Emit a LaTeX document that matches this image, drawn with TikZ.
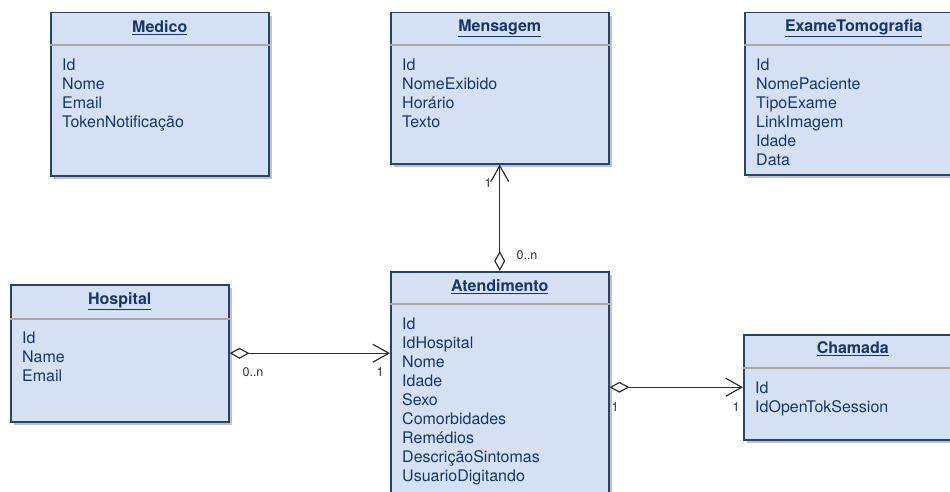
\documentclass[tikz,border=0pt]{standalone}
\usepackage{fontspec}
\setmainfont{TeX Gyre Heros}
\usetikzlibrary{arrows.meta,shadows}

\definecolor{umlfill}{HTML}{D4E1F5}
\definecolor{umlline}{HTML}{25446E}
\definecolor{umltext}{HTML}{173663}
\definecolor{umlsep}{HTML}{A8A8A8}
\definecolor{umlwire}{HTML}{2E2E2E}

\tikzset{
  classbox/.style={draw=umlline, line width=1.5pt, fill=umlfill, anchor=north west,
    minimum width=218pt, inner sep=0pt,
    drop shadow={shadow xshift=3pt, shadow yshift=-3pt, fill=black!30, opacity=0.8}},
  classtitle/.style={text=umltext, font=\fontsize{16}{19}\selectfont\bfseries, inner sep=0pt},
  attrs/.style={text=umltext, font=\fontsize{16}{19}\selectfont, align=left,
    anchor=north west, inner sep=0pt},
  sepline/.style={draw=umlsep, line width=1.5pt},
  mult/.style={text=umlwire, font=\fontsize{12.5}{14}\selectfont, inner sep=0pt},
  assoc/.style={draw=umlwire, line width=1.2pt,
    {Diamond[open,length=20pt,width=11pt]}-{Straight Barb[length=16pt,width=18pt]}}
}

\begin{document}
\begin{tikzpicture}[x=1pt,y=-1pt]
    \useasboundingbox (0,0) rectangle (950,492);
    \clip (0,0) rectangle (950,492);

    % class boxes
    \node[classbox, minimum height=163pt] (medico)   at (50,12)  {};
    \node[classbox, minimum height=151pt] (mensagem) at (390,12) {};
    \node[classbox, minimum height=162pt] (exame)    at (744,12) {};
    \node[classbox, minimum height=137pt] (hospital) at (10,284) {};
    \node[classbox, minimum height=240pt] (atend)    at (390,271) {};
    \node[classbox, minimum height=105pt] (chamada)  at (743,334) {};

    % header separators
    \draw[sepline] ([yshift=-33pt]medico.north west)   -- ([yshift=-33pt]medico.north east);
    \draw[sepline] ([yshift=-33pt]mensagem.north west) -- ([yshift=-33pt]mensagem.north east);
    \draw[sepline] ([yshift=-33pt]exame.north west)    -- ([yshift=-33pt]exame.north east);
    \draw[sepline] ([yshift=-35pt]hospital.north west) -- ([yshift=-35pt]hospital.north east);
    \draw[sepline] ([yshift=-33pt]atend.north west)    -- ([yshift=-33pt]atend.north east);
    \draw[sepline] ([yshift=-34pt]chamada.north west)  -- ([yshift=-34pt]chamada.north east);

    % titles
    \node[classtitle] (medicotitle)   at ([yshift=-16pt]medico.north)   {\underline{Medico}};
    \node[classtitle] (mensagemtitle) at ([yshift=-16pt]mensagem.north) {\underline{Mensagem}};
    \node[classtitle] (exametitle)    at ([yshift=-16pt]exame.north)    {\underline{ExameTomografia}};
    \node[classtitle] (hospitaltitle) at ([yshift=-17pt]hospital.north) {\underline{Hospital}};
    \node[classtitle] (atendtitle)    at ([yshift=-16pt]atend.north)    {\underline{Atendimento}};
    \node[classtitle] (chamadatitle)  at ([yshift=-15pt]chamada.north)  {\underline{Chamada}};

    % attributes
    \node[attrs] (medicoattrs) at ([xshift=12pt,yshift=-47pt]medico.north west)
        {Id\\Nome\\Email\\TokenNotificação};
    \node[attrs] (mensagemattrs) at ([xshift=12pt,yshift=-47pt]mensagem.north west)
        {Id\\NomeExibido\\Horário\\Texto};
    \node[attrs] (exameattrs) at ([xshift=12pt,yshift=-47pt]exame.north west)
        {Id\\NomePaciente\\TipoExame\\LinkImagem\\Idade\\Data};
    \node[attrs] (hospitalattrs) at ([xshift=12pt,yshift=-48pt]hospital.north west)
        {Id\\Name\\Email};
    \node[attrs] (atendattrs) at ([xshift=12pt,yshift=-47pt]atend.north west)
        {Id\\IdHospital\\Nome\\Idade\\Sexo\\Comorbidades\\Remédios\\DescriçãoSintomas\\UsuarioDigitando};
    \node[attrs] (chamadaattrs) at ([xshift=12pt,yshift=-48pt]chamada.north west)
        {Id\\IdOpenTokSession};

    % associations
    \draw[assoc] (hospital.east) -- (hospital.east -| atend.west);
    \draw[assoc] (atend.north) -- (mensagem.south);
    \draw[assoc] (atend.east |- chamada.west) -- (chamada.west);

    % multiplicities
    \node[mult] (hosp0n)  at (253,372) {0..n};
    \node[mult] (hosp1)   at (380,372) {1};
    \node[mult] (msg1)    at (488,183) {1};
    \node[mult] (msg0n)   at (527,255) {0..n};
    \node[mult] (cham1a)  at (615,407) {1};
    \node[mult] (cham1b)  at (736,407) {1};
\end{tikzpicture}
\end{document}
